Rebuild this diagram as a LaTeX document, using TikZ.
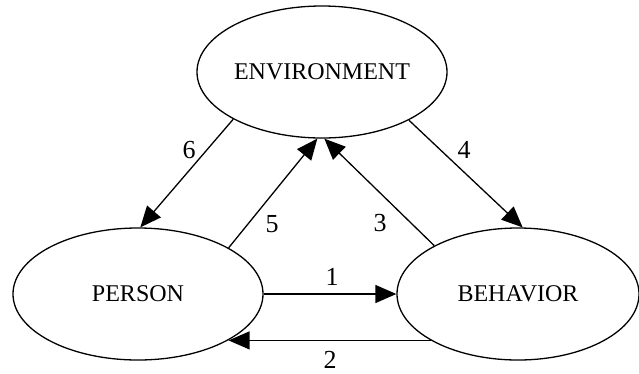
\documentclass[tikz,border=0pt]{standalone}
\usepackage{fontspec}
\setmainfont{Liberation Serif}
\usetikzlibrary{arrows.meta,shapes.geometric}
\begin{document}
\begin{tikzpicture}[x=1pt,y=-1pt,
  blob/.style={draw, ellipse, line width=1.3pt, inner sep=0pt,
    minimum height=132pt, font=\fontsize{24}{24}\selectfont},
  link/.style={line width=1.3pt, -{Triangle[length=21pt,width=18pt]}},
  num/.style={inner sep=0pt, font=\fontsize{26}{26}\selectfont}]
  \useasboundingbox (0,0) rectangle (639,373);

  % the three factors
  \node[blob, minimum width=250pt] (env) at (322,72) {ENVIRONMENT};
  \node[blob, minimum width=250pt] (person) at (138,294) {PERSON};
  \node[blob, minimum width=242pt] (behavior) at (518,294) {BEHAVIOR};

  % influences between the factors
  \draw[link] (person.0) -- (behavior.180);
  \draw[link] (behavior.208) -- (behavior.208 -| person.333);
  \draw[link] (behavior.150.5) -- (env.272);
  \draw[link] (env.331.7) -- (behavior.86.6);
  \draw[link] (person.27.6) -- (env.266);
  \draw[link] (env.208.9) -- (person.88);

  % influence numbers
  \node[num] (n1) at (332,277) {1};
  \node[num] (n2) at (330,360) {2};
  \node[num] (n3) at (380,223) {3};
  \node[num] (n4) at (464,150) {4};
  \node[num] (n5) at (272,224) {5};
  \node[num] (n6) at (189,150) {6};
\end{tikzpicture}
\end{document}
